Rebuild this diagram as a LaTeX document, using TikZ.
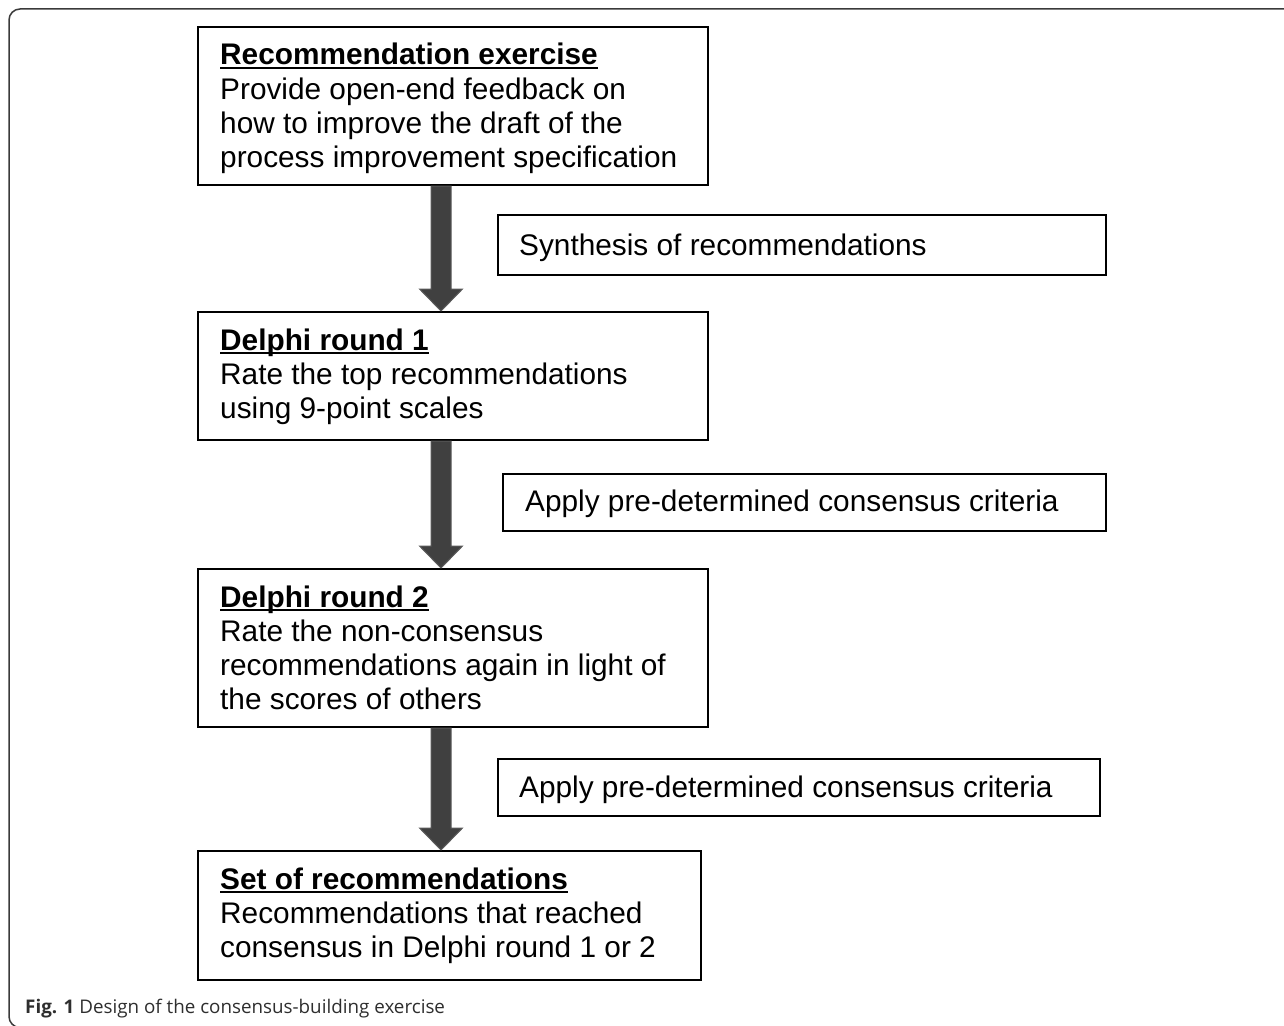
\documentclass[tikz,border=0pt]{standalone}
\usepackage{fontspec}
\setmainfont{Liberation Sans}
\newfontfamily\capfont{Open Sans}
\usetikzlibrary{calc}
\definecolor{arrowfill}{HTML}{404040}
\definecolor{arrowline}{HTML}{5A5A5A}
\definecolor{framecol}{HTML}{3A3A3A}
\definecolor{capcol}{HTML}{2E2E2E}
\newcommand\ulbf[1]{\setbox0\hbox{\bfseries #1}\rlap{\rule[-4pt]{\wd0}{2pt}}\box0}
\newcommand\txtlines[1]{\vtop{\baselineskip=34pt #1}}
\newcommand\bigarrow[2]{%
  \draw[bigarrow] let \p1=(#1), \p2=(#2) in
    (\x1-10pt,\y1) -- (\x1-10pt,\y2+22pt) -- (\x1-21.5pt,\y2+22pt) -- (\x1,\y2)
    -- (\x1+21.5pt,\y2+22pt) -- (\x1+10pt,\y2+22pt) -- (\x1+10pt,\y1) -- cycle;}
\tikzset{
  box/.style={draw=black, line width=2pt, inner sep=0pt, fill=white},
  txt/.style={anchor=base west, inner sep=0pt, font=\fontsize{29.8}{34}\selectfont},
  bigarrow/.style={fill=arrowfill, draw=arrowline, line width=1pt},
  frame/.style={draw=framecol, line width=1.5pt, rounded corners=11pt},
}
\begin{document}
\begin{tikzpicture}[x=1pt, y=-1pt]
\useasboundingbox (0,0) rectangle (1284,1025);
\draw[frame] (9,9) rectangle (1310,1027.5);
% main boxes
\node[box, minimum width=510, minimum height=158] (b1) at (453,106) {};
\node[box, minimum width=510, minimum height=128] (b2) at (453,376) {};
\node[box, minimum width=510, minimum height=158] (b3) at (453,648) {};
\node[box, minimum width=503, minimum height=129] (b4) at (449.5,915.5) {};
% side boxes
\node[box, minimum width=608, minimum height=60] (s1) at (802,245) {};
\node[box, minimum width=603, minimum height=57] (s2) at (804.5,502.5) {};
\node[box, minimum width=602, minimum height=57] (s3) at (799,787.5) {};
% texts
\node[txt] (t1) at (220,65) {\txtlines{\hbox{\ulbf{Recommendation exercise}}\hbox{Provide open-end feedback on}\hbox{how to improve the draft of the}\hbox{process improvement specification}}};
\node[txt] (t2) at (220,350) {\txtlines{\hbox{\ulbf{Delphi round 1}}\hbox{Rate the top recommendations}\hbox{using 9-point scales}}};
\node[txt] (t3) at (220,607) {\txtlines{\hbox{\ulbf{Delphi round 2}}\hbox{Rate the non-consensus}\hbox{recommendations again in light of}\hbox{the scores of others}}};
\node[txt] (t4) at (220,889) {\txtlines{\hbox{\ulbf{Set of recommendations}}\hbox{Recommendations that reached}\hbox{consensus in Delphi round 1 or 2}}};
\node[txt] (u1) at (519,255) {Synthesis of recommendations};
\node[txt] (u2) at (525,511) {Apply pre-determined consensus criteria};
\node[txt] (u3) at (519,797) {Apply pre-determined consensus criteria};
% arrows
\coordinate (ax) at (441,0);
\bigarrow{b1.south -| ax}{b2.north -| ax}
\bigarrow{b2.south -| ax}{b3.north -| ax}
\bigarrow{b3.south -| ax}{b4.north -| ax}
% caption
\node[anchor=base west, inner sep=0pt, text=capcol, font=\capfont\fontsize{18.8}{22}\selectfont] (cap) at (25,1013) {\textbf{Fig. 1} Design of the consensus-building exercise};
\end{tikzpicture}
\end{document}
